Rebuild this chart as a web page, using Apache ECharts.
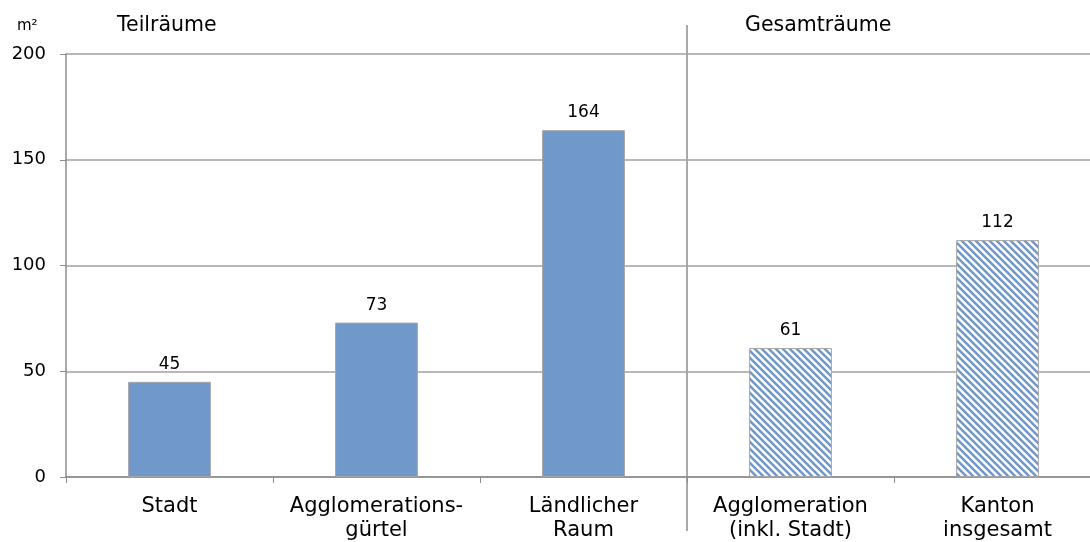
<!DOCTYPE html>
<html>
<head>
<meta charset="utf-8">
<script src="https://cdn.jsdelivr.net/npm/echarts@6/dist/echarts.min.js"></script>
<style>
  html, body { margin: 0; padding: 0; background: #fff; }
  #chart { width: 1090px; height: 542px; }
</style>
</head>
<body>
<div id="chart"></div>
<script>
const categories = ["Stadt", "Agglomerations-\ngürtel", "Ländlicher\nRaum", "Agglomeration\n(inkl. Stadt)", "Kanton\ninsgesamt"];
const values = [45, 73, 164, 61, 112];
const hatched = [false, false, false, true, true];
const yTicks = [0, 50, 100, 150, 200];

const blue = "#7198cb";
const font = "DejaVu Sans, Verdana, sans-serif";

// diagonal stripe tile for the "Gesamträume" bars
function stripePattern() {
  const s = 7;
  const c = document.createElement("canvas");
  c.width = s;
  c.height = s;
  const ctx = c.getContext("2d");
  ctx.fillStyle = "#fff";
  ctx.fillRect(0, 0, s, s);
  ctx.strokeStyle = blue;
  ctx.lineWidth = 2.5;
  ctx.beginPath();
  ctx.moveTo(-1, -1); ctx.lineTo(s + 1, s + 1);
  ctx.moveTo(-1, s - 1); ctx.lineTo(1, s + 1);
  ctx.moveTo(s - 1, -1); ctx.lineTo(s + 1, 1);
  ctx.stroke();
  return c;
}
const pattern = { image: stripePattern(), repeat: "repeat" };

const seriesData = values.map((v, i) => ({
  value: v,
  itemStyle: {
    color: hatched[i] ? pattern : blue,
    borderColor: "#a6a6a6",
    borderWidth: 1
  }
}));

const chart = echarts.init(document.getElementById("chart"));
chart.setOption({
  animation: false,
  grid: { left: 66, width: 1035, top: 54, bottom: 65, outerBoundsMode: "none", containLabel: false },
  xAxis: {
    type: "category",
    data: categories,
    axisLine: { lineStyle: { color: "#8c8c8c", width: 1.5 } },
    axisTick: { show: true, length: 6, lineStyle: { color: "#8c8c8c" } },
    axisLabel: { interval: 0, color: "#000", fontFamily: font, fontSize: 21, lineHeight: 24, margin: 18 }
  },
  yAxis: {
    type: "value",
    min: 0,
    max: 200,
    interval: 50,
    axisLine: { show: true, lineStyle: { color: "#8c8c8c", width: 1.5 } },
    axisTick: { show: true, length: 6, lineStyle: { color: "#8c8c8c" } },
    splitLine: { lineStyle: { color: "#a0a0a0", width: 1.5 } },
    axisLabel: {
      color: "#000", fontFamily: font, fontSize: 18, margin: 20,
      formatter: v => (yTicks.indexOf(v) >= 0 ? String(v) : "")
    }
  },
  series: [{
    type: "bar",
    data: seriesData,
    barWidth: "40%",
    label: {
      show: true,
      position: "top",
      distance: 9,
      color: "#000",
      fontFamily: font,
      fontSize: 17
    }
  }],
  graphic: [
    { type: "line", shape: { x1: 687, y1: 25, x2: 687, y2: 531 }, style: { stroke: "#8c8c8c", lineWidth: 1.5 } },
    { type: "text", left: 117, top: 15, style: { text: "Teilräume", font: "20.5px " + font, fill: "#000" } },
    { type: "text", left: 745, top: 15, style: { text: "Gesamträume", font: "20.5px " + font, fill: "#000" } },
    { type: "text", left: 17, top: 19, style: { text: "m²", font: "15px " + font, fill: "#000" } }
  ]
});
</script>
</body>
</html>
